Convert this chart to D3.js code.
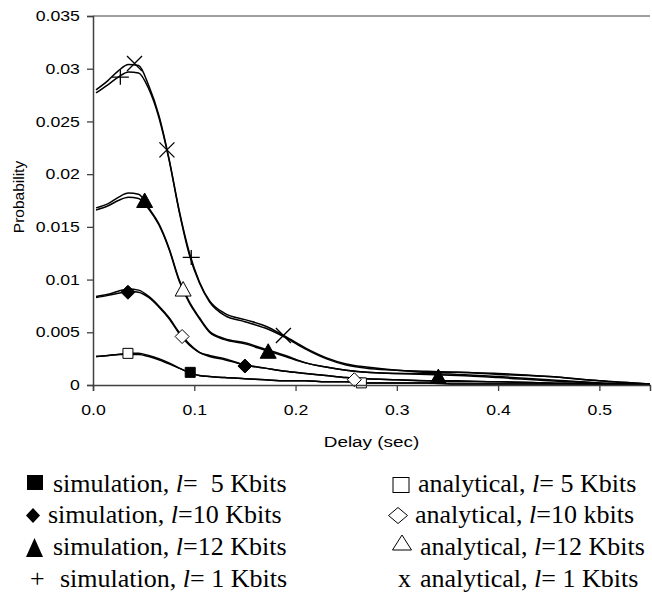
<!DOCTYPE html>
<html>
<head>
<meta charset="utf-8">
<script src="https://cdn.jsdelivr.net/npm/d3@7"></script>
<style>
  body { margin: 0; background: #fff; }
  svg { display: block; }
</style>
</head>
<body>
<script>
// delay values (sec) shared by every curve
var delays = [0.003, 0.015, 0.025, 0.035, 0.045, 0.055, 0.065, 0.075, 0.085, 0.095, 0.105, 0.115, 0.13, 0.15, 0.17, 0.19, 0.21, 0.23, 0.25, 0.27, 0.3, 0.33, 0.36, 0.4, 0.45, 0.5, 0.55];

// l = 1 Kbits
var sim1 = [0.0277, 0.0285, 0.0292, 0.0297, 0.0296, 0.0281, 0.0254, 0.0214, 0.0165, 0.0124, 0.0097, 0.0079, 0.0066, 0.0060, 0.0054, 0.0045, 0.0034, 0.0025, 0.0019, 0.0016, 0.0014, 0.0012, 0.0012, 0.0010, 0.0008, 0.0004, 0.0001];
var ana1 = [0.0280, 0.0289, 0.0298, 0.0304, 0.0303, 0.0284, 0.0256, 0.0215, 0.0166, 0.0126, 0.0098, 0.0080, 0.0068, 0.0062, 0.0056, 0.0046, 0.0035, 0.0026, 0.0020, 0.0017, 0.0014, 0.0013, 0.0012, 0.0011, 0.0008, 0.0004, 0.0001];
// l = 12 Kbits
var sim12 = [0.0166, 0.0170, 0.0175, 0.0178, 0.0177, 0.0167, 0.0152, 0.0129, 0.0099, 0.0078, 0.0063, 0.0050, 0.0043, 0.0039, 0.0033, 0.0027, 0.0021, 0.0017, 0.0014, 0.0012, 0.0011, 0.0010, 0.0009, 0.0007, 0.0004, 0.0002, 0.0001];
var ana12 = [0.0168, 0.0172, 0.0178, 0.0182, 0.0181, 0.0168, 0.0153, 0.0130, 0.0100, 0.0079, 0.0064, 0.0051, 0.0044, 0.0040, 0.0034, 0.0028, 0.0021, 0.0017, 0.0014, 0.0012, 0.0011, 0.0011, 0.0010, 0.0008, 0.0005, 0.0002, 0.0001];
// l = 10 Kbits
var sim10 = [0.0083, 0.0085, 0.0087, 0.0089, 0.0088, 0.0083, 0.0074, 0.0063, 0.0049, 0.0038, 0.0031, 0.0027, 0.0024, 0.0019, 0.0016, 0.0013, 0.0011, 0.0009, 0.0007, 0.0006, 0.0005, 0.0004, 0.0003, 0.0003, 0.0002, 0.0001, 0.0001];
var ana10 = [0.0084, 0.0086, 0.0089, 0.0091, 0.0090, 0.0084, 0.0075, 0.0064, 0.0050, 0.0039, 0.0031, 0.0028, 0.0025, 0.0019, 0.0016, 0.0013, 0.0011, 0.0009, 0.0007, 0.0006, 0.0005, 0.0004, 0.0004, 0.0003, 0.0002, 0.0001, 0.0001];
// l = 5 Kbits
var sim5 = [0.0027, 0.0028, 0.0029, 0.0029, 0.0029, 0.0027, 0.0024, 0.0020, 0.0016, 0.0012, 0.0009, 0.0008, 0.0007, 0.0006, 0.0005, 0.0004, 0.0004, 0.0003, 0.0003, 0.0002, 0.0002, 0.0002, 0.0001, 0.0001, 0.0001, 0.0001, 0.0000];
var ana5 = [0.0027, 0.0028, 0.0029, 0.0030, 0.0030, 0.0028, 0.0025, 0.0021, 0.0016, 0.0012, 0.0009, 0.0008, 0.0007, 0.0006, 0.0005, 0.0004, 0.0004, 0.0003, 0.0003, 0.0002, 0.0002, 0.0002, 0.0001, 0.0001, 0.0001, 0.0001, 0.0000];

// marker points [delay, probability]
var markSim5 = [[0.096, 0.0012]];
var markAna5 = [[0.0345, 0.0030], [0.265, 0.0002]];
var markSim10 = [[0.0345, 0.0088], [0.150, 0.0018]];
var markAna10 = [[0.088, 0.0046], [0.258, 0.0005]];
var markSim12 = [[0.051, 0.0175], [0.173, 0.0032], [0.341, 0.0008]];
var markAna12 = [[0.089, 0.0091]];
var markSim1 = [[0.027, 0.0292], [0.097, 0.0121]];
var markAna1 = [[0.041, 0.0305], [0.073, 0.0223], [0.188, 0.0047]];

// ticks
var xTicks = [0, 0.1, 0.2, 0.3, 0.4, 0.5];
var yTicks = [0, 0.005, 0.01, 0.015, 0.02, 0.025, 0.03, 0.035];

// legend texts
var simLabels = ["=  5 Kbits", "=10 Kbits", "=12 Kbits", "= 1 Kbits"];
var anaLabels = ["= 5 Kbits", "=10 kbits", "=12 Kbits", "= 1 Kbits"];

const W = 652, H = 592;
const plot = { left: 93, right: 650, top: 16, bottom: 385 };
const stretch = 1.22;   // axis text is a bit wider than tall in the picture

var xScale = d3.scaleLinear().domain([0, 0.55]).range([plot.left, plot.right]);
var yScale = d3.scaleLinear().domain([0, 0.035]).range([plot.bottom, plot.top]);

var svg = d3.select("body").append("svg")
    .attr("width", W)
    .attr("height", H);

// top border of plot area
svg.append("line")
    .attr("x1", plot.left).attr("x2", plot.right)
    .attr("y1", plot.top).attr("y2", plot.top)
    .attr("stroke", "#404040").attr("stroke-width", 1);

// curves
var line = d3.line()
    .x(d => xScale(d[0]))
    .y(d => yScale(d[1]))
    .curve(d3.curveMonotoneX);

[sim1, ana1, sim12, ana12, sim10, ana10, sim5, ana5].forEach(serie => {
    svg.append("path")
        .datum(delays.map((d, i) => [d, serie[i]]))
        .attr("d", line)
        .attr("fill", "none")
        .attr("stroke", "#000")
        .attr("stroke-width", 1.5);
});

// marker shapes
function markerPath(type) {
    var p = d3.path();
    if (type == "square") {
        p.rect(-5, -5, 10, 10);
    } else if (type == "diamond") {
        p.moveTo(0, -7); p.lineTo(7, 0); p.lineTo(0, 7); p.lineTo(-7, 0); p.closePath();
    } else if (type == "triangle") {
        p.moveTo(0, -7.5); p.lineTo(8, 7); p.lineTo(-8, 7); p.closePath();
    } else if (type == "plus") {
        p.moveTo(-8.5, 0); p.lineTo(8.5, 0); p.moveTo(0, -7.5); p.lineTo(0, 7.5);
    } else if (type == "cross") {
        p.moveTo(-7.5, -7.5); p.lineTo(7.5, 7.5); p.moveTo(-7.5, 7.5); p.lineTo(7.5, -7.5);
    }
    return p.toString();
}

function drawMarkers(points, type, filled) {
    svg.selectAll(null)
        .data(points)
        .enter()
        .append("path")
        .attr("transform", d => "translate(" + xScale(d[0]) + "," + yScale(d[1]) + ")")
        .attr("d", markerPath(type))
        .attr("fill", (type == "plus" || type == "cross") ? "none" : (filled ? "#000" : "#fff"))
        .attr("stroke", "#000")
        .attr("stroke-width", (type == "plus" || type == "cross") ? 1.3 : 1);
}

drawMarkers(markSim5, "square", true);
drawMarkers(markAna5, "square", false);
drawMarkers(markSim10, "diamond", true);
drawMarkers(markAna10, "diamond", false);
drawMarkers(markSim12, "triangle", true);
drawMarkers(markAna12, "triangle", false);
drawMarkers(markSim1, "plus", false);
drawMarkers(markAna1, "cross", false);

// axes
var xAxis = svg.append("g")
    .attr("transform", "translate(0," + plot.bottom + ")")
    .call(d3.axisBottom(xScale).tickValues(xTicks).tickFormat(d3.format(".1f")).tickSizeOuter(0).tickSize(6).tickPadding(14));
xAxis.select(".domain").attr("stroke", "#404040").attr("stroke-width", 1.5);
xAxis.selectAll(".tick line").attr("stroke", "#404040").attr("stroke-width", 1.3);
xAxis.selectAll(".tick text")
    .attr("font-family", "Liberation Sans, Arial, sans-serif")
    .attr("font-size", 14.5)
    .attr("fill", "#000")
    .attr("transform", "scale(" + stretch + ",1)");

var yAxis = svg.append("g")
    .attr("transform", "translate(" + plot.left + ",0)")
    .call(d3.axisLeft(yScale).tickValues(yTicks).tickFormat(d => d == 0 ? "0" : d3.format("")(+d.toFixed(3))).tickSizeOuter(0).tickSize(6).tickPadding(4.7));
yAxis.select(".domain").attr("stroke", "#404040").attr("stroke-width", 1.5);
yAxis.selectAll(".tick line").attr("stroke", "#404040").attr("stroke-width", 1.3);
yAxis.selectAll(".tick text")
    .attr("font-family", "Liberation Sans, Arial, sans-serif")
    .attr("font-size", 14.5)
    .attr("fill", "#000")
    .attr("transform", "scale(" + stretch + ",1)");

// axis titles
svg.append("text")
    .attr("transform", "translate(" + ((plot.left + plot.right) / 2) + ",447) scale(" + stretch + ",1)")
    .attr("text-anchor", "middle")
    .attr("font-family", "Liberation Sans, Arial, sans-serif")
    .attr("font-size", 15.5)
    .text("Delay (sec)");

svg.append("text")
    .attr("transform", "translate(24,197) rotate(-90)")
    .attr("text-anchor", "middle")
    .attr("font-family", "Liberation Sans, Arial, sans-serif")
    .attr("font-size", 15.5)
    .text("Probability");

// legend
var legendFont = "Liberation Serif, Times New Roman, serif";
var rowY = [492, 523, 555, 587];
var simTextX = [53, 48, 53, 60];
var anaTextX = [418, 415, 420, 420];

function legendText(x, y, word, rest) {
    var t = svg.append("text")
        .attr("x", x).attr("y", y)
        .attr("font-family", legendFont)
        .attr("font-size", 26)
        .style("white-space", "pre");
    t.append("tspan").text(word + ", ");
    t.append("tspan").attr("font-style", "italic").text("l");
    t.append("tspan").text(rest);
}

simLabels.forEach((s, i) => legendText(simTextX[i], rowY[i], "simulation", s));
anaLabels.forEach((s, i) => legendText(anaTextX[i], rowY[i], "analytical", s));

// legend symbols
svg.append("rect").attr("x", 27).attr("y", 475).attr("width", 16).attr("height", 15).attr("fill", "#000");
svg.append("path").attr("d", "M33,508L40,515.5L33,523L26,515.5Z").attr("fill", "#000");
svg.append("path").attr("d", "M34.5,538L43,557L26,557Z").attr("fill", "#000");
svg.append("text").attr("x", 30).attr("y", rowY[3]).attr("font-family", legendFont).attr("font-size", 26).text("+");

svg.append("rect").attr("x", 393).attr("y", 477.5).attr("width", 16).attr("height", 15).attr("fill", "none").attr("stroke", "#000").attr("stroke-width", 1);
svg.append("path").attr("d", "M398,507.5L407.5,515.5L398,523.5L388.5,515.5Z").attr("fill", "none").attr("stroke", "#000").attr("stroke-width", 1);
svg.append("path").attr("d", "M402,535L411.5,550L392.5,550Z").attr("fill", "none").attr("stroke", "#000").attr("stroke-width", 1);
svg.append("text").attr("x", 398).attr("y", rowY[3]).attr("font-family", legendFont).attr("font-size", 26).text("x");
</script>
</body>
</html>
